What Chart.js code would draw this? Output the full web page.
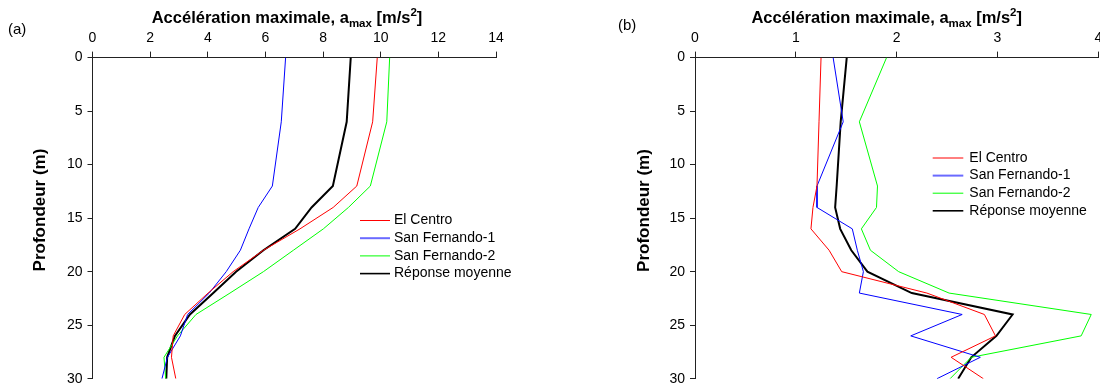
<!DOCTYPE html>
<html><head><meta charset="utf-8">
<script src="https://cdn.jsdelivr.net/npm/chart.js@4/dist/chart.umd.min.js"></script>
<style>
html,body{margin:0;padding:0;background:#fff;overflow:hidden}
#wrap{position:relative;width:1100px;height:383px;background:#fff}
.c{position:absolute;top:0;width:550px;height:383px}
</style></head><body>
<div id="wrap">
<div class="c" style="left:0"><canvas id="ca" width="550" height="383"></canvas></div>
<div class="c" style="left:550px"><canvas id="cb" width="550" height="383"></canvas></div>
</div>
<script>
// ---- data ----
const depths = [0, 6, 12, 14, 16, 18, 20, 22, 24, 26, 28, 30];
const seriesNames = ['El Centro', 'San Fernando-1', 'San Fernando-2', 'Réponse moyenne'];
// (a)
const aElCentro   = [9.88, 9.72, 9.17, 8.35, 7.20, 5.93, 4.88, 4.01, 3.20, 2.80, 2.74, 2.89];
const aSanFern1   = [6.70, 6.55, 6.24, 5.75, 5.43, 5.13, 4.64, 4.05, 3.30, 3.05, 2.60, 2.41];
const aSanFern2   = [10.31, 10.21, 9.64, 8.88, 8.01, 6.97, 5.93, 4.77, 3.59, 2.95, 2.48, 2.54];
const aMoyenne    = [8.96, 8.82, 8.34, 7.60, 7.03, 5.93, 4.98, 4.19, 3.38, 2.86, 2.59, 2.56];
// (b)
const bElCentro   = [1.25, 1.23, 1.21, 1.17, 1.15, 1.33, 1.455, 2.30, 2.87, 2.98, 2.54, 2.86];
const bSanFern1   = [1.37, 1.47, 1.21, 1.21, 1.56, 1.61, 1.67, 1.63, 2.65, 2.14, 2.83, 2.40];
const bSanFern2   = [1.90, 1.63, 1.81, 1.80, 1.65, 1.74, 2.02, 2.52, 3.93, 3.83, 2.74, 2.53];
const bMoyenne    = [1.505, 1.445, 1.405, 1.39, 1.44, 1.55, 1.71, 2.15, 3.15, 2.99, 2.74, 2.61];
// tick labels
const xTicksA = [0, 2, 4, 6, 8, 10, 12, 14];
const xTicksB = [0, 1, 2, 3, 4];
const yTicks  = [0, 5, 10, 15, 20, 25, 30];
const xTitle = ['Accélération maximale, a', 'max', ' [m/s', '2', ']'];
const yTitle = 'Profondeur (m)';

const colors = ['#ff0000', '#0000ff', '#00ff00', '#000000'];
const widths = [1, 1, 1, 2];
const legendColors = ['#ff0000', '#6a6aff', '#00ff00', '#000000'];
const legendWidths = [1, 2, 1, 1.6];
const FONT = "'Liberation Sans', Arial, sans-serif";

function toPts(xs){ return xs.map((v,i)=>({x:v, y:depths[i]})); }

function richTitle(ctx, cx, baseline){
  const parts = [[xTitle[0],16.5,0],[xTitle[1],11.5,4],[xTitle[2],16.5,0],[xTitle[3],11.5,-7],[xTitle[4],16.5,0]];
  ctx.save();
  let w = 0;
  parts.forEach(p=>{ ctx.font = 'bold '+p[1]+'px '+FONT; w += ctx.measureText(p[0]).width; });
  let x = cx - w/2;
  ctx.fillStyle = '#000'; ctx.textBaseline = 'alphabetic'; ctx.textAlign='left';
  parts.forEach(p=>{ ctx.font = 'bold '+p[1]+'px '+FONT; ctx.fillText(p[0], x, baseline + p[2]); x += ctx.measureText(p[0]).width; });
  ctx.restore();
}

function makeChart(id, seriesList, xMax, xTicks, cfg){
  const decor = {
    id: 'decor',
    afterDraw(chart){
      const ctx = chart.ctx;
      richTitle(ctx, cfg.titleCx, 23);
      ctx.save();
      // y axis title
      ctx.save();
      ctx.translate(cfg.yTitleX, cfg.yTitleY);
      ctx.rotate(-Math.PI/2);
      ctx.font = 'bold 17px '+FONT; ctx.fillStyle='#000'; ctx.textAlign='center'; ctx.textBaseline='middle';
      ctx.fillText(yTitle, 0, 0);
      ctx.restore();
      ctx.font = '15px '+FONT; ctx.fillStyle='#000'; ctx.textBaseline='middle'; ctx.textAlign='left';
      ctx.fillText(cfg.panel, cfg.panelX, cfg.panelY);
      ctx.font = '14px '+FONT;
      chart.data.datasets.forEach((ds,i)=>{
        const y = cfg.legY + i*cfg.legDy;
        ctx.beginPath(); ctx.strokeStyle = legendColors[i]; ctx.lineWidth = legendWidths[i];
        ctx.moveTo(cfg.legX, y); ctx.lineTo(cfg.legX + cfg.legLen, y); ctx.stroke();
        ctx.fillText(ds.label, cfg.legTx, y);
      });
      ctx.restore();
    }
  };
  return new Chart(document.getElementById(id), {
    type: 'scatter',
    data: { datasets: seriesList.map((s,i)=>({
      label: seriesNames[i], data: toPts(s), showLine: true, borderColor: colors[i], backgroundColor: colors[i],
      borderWidth: widths[i], pointRadius: 0, tension: 0, fill: false
    }))},
    options: {
      responsive: false, animation: false, devicePixelRatio: 1,
      layout: { padding: { left: 0, top: 0, right: cfg.padRight, bottom: 4.3 } },
      plugins: { legend: { display: false }, tooltip: { enabled: false }, title: { display: false } },
      scales: {
        x: {
          type: 'linear', position: 'top', min: 0, max: xMax,
          afterBuildTicks: s => { s.ticks = xTicks.map(v=>({value:v})); },
          afterFit: s => { s.height = 57.6; s.paddingLeft = 0; s.paddingRight = 0; },
          ticks: { color: '#000', font: { family: FONT, size: 14 }, padding: 5.2, maxRotation: 0, autoSkip: false },
          grid: { drawOnChartArea: false, drawTicks: true, tickLength: 6, color: '#222', lineWidth: 1 },
          border: { display: true, color: '#222', width: 1 }
        },
        y: {
          type: 'linear', position: 'left', min: 0, max: 30, reverse: true,
          afterBuildTicks: s => { s.ticks = yTicks.map(v=>({value:v})); },
          afterFit: s => { s.width = cfg.yWidth; s.paddingTop = 0; s.paddingBottom = 0; },
          ticks: { color: '#000', font: { family: FONT, size: 14 }, padding: 5, autoSkip: false },
          grid: { drawOnChartArea: false, drawTicks: true, tickLength: 5, color: '#222', lineWidth: 1 },
          border: { display: true, color: '#222', width: 1 },
          title: { display: false }
        }
      }
    },
    plugins: [decor]
  });
}

makeChart('ca', [aElCentro, aSanFern1, aSanFern2, aMoyenne], 14, xTicksA, {
  yWidth: 92.5, padRight: 54, yTitleX: 40, yTitleY: 210, titleCx: 287, panel: '(a)', panelX: 8, panelY: 30,
  legX: 360, legLen: 30, legTx: 394, legY: 220.5, legDy: 17.7
});
makeChart('cb', [bElCentro, bSanFern1, bSanFern2, bMoyenne], 4, xTicksB, {
  yWidth: 145, padRight: 1.7, yTitleX: 94.3, yTitleY: 210.5, titleCx: 336.7, panel: '(b)', panelX: 68, panelY: 26,
  legX: 382.7, legLen: 30.6, legTx: 419.3, legY: 158, legDy: 17.6
});
</script>
</body></html>
